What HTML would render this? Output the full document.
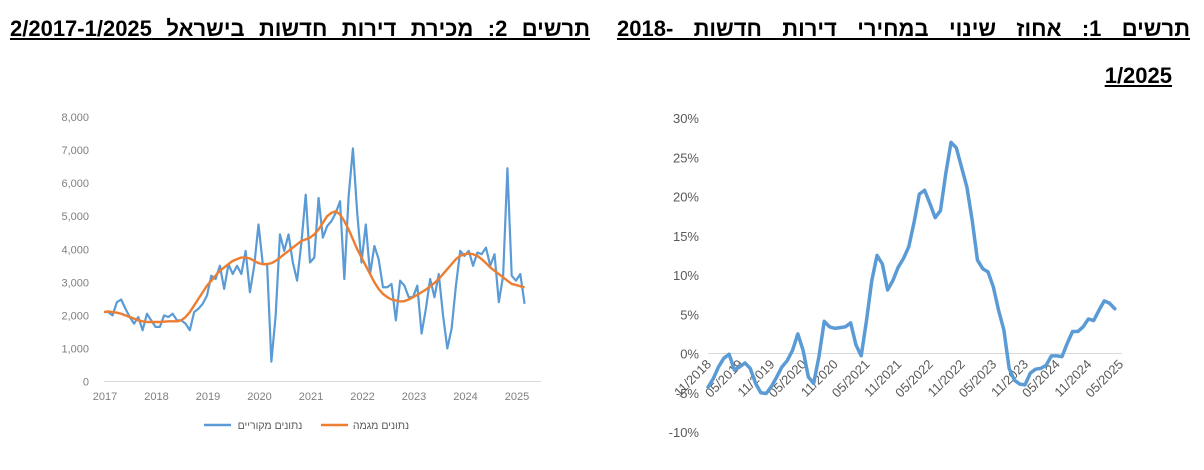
<!DOCTYPE html>
<html><head><meta charset="utf-8">
<style>
body{margin:0;background:#fff;width:1204px;height:470px;overflow:hidden;position:relative;font-family:"Liberation Sans","DejaVu Sans",sans-serif;}
.title{position:absolute;direction:rtl;font-weight:bold;font-size:22px;text-decoration:underline;white-space:nowrap;color:#000;line-height:26px;}
svg{position:absolute;left:0;top:0;}
</style></head><body>
<div class="title" id="t1" style="right:14px;top:16px;">תרשים 1: אחוז שינוי במחירי דירות חדשות -2018</div>
<div class="title" id="t1b" style="right:32px;top:63px;">1/2025</div>
<div class="title" id="t2" style="left:10px;top:16px;">תרשים 2: מכירת דירות חדשות בישראל 2/2017-1/2025</div>
<svg id="svg" width="1204" height="470"></svg>
<script>
// ---- Chart 2 (left) data ----
const salesYears = ["2017","2018","2019","2020","2021","2022","2023","2024","2025"];
const salesTicks = [0,1000,2000,3000,4000,5000,6000,7000,8000];
const salesRaw = [2100,2100,2000,2400,2480,2200,1950,1750,1950,1550,2050,1850,
1650,1650,2000,1950,2050,1850,1850,1750,1550,2100,2200,2350,
2600,3200,3100,3500,2800,3550,3250,3500,3250,3950,2700,3500,
4750,3550,3550,600,2000,4450,3950,4450,3600,3050,4200,5650,
3600,3750,5550,4350,4700,4850,5100,5450,3100,5600,7050,5100,
3600,4750,3250,4100,3700,2850,2850,2950,1850,3050,2900,2550,
2550,2900,1450,2200,3100,2550,3250,2000,1000,1600,2900,3950,
3800,3950,3500,3900,3850,4050,3500,3850,2400,3200,6450,3200,
3050,3250,2350];
const salesSmooth = [2100,2120,2100,2080,2050,2000,1950,1900,1850,1820,1800,1800,
1800,1800,1810,1820,1820,1820,1850,1950,2100,2300,2500,2700,
2900,3050,3200,3350,3450,3550,3650,3700,3750,3750,3720,3650,
3580,3550,3550,3580,3650,3750,3850,3950,4050,4150,4250,4300,
4350,4450,4600,4800,5000,5100,5150,5050,4850,4600,4300,4000,
3750,3500,3250,3000,2800,2650,2550,2480,2450,2420,2430,2480,
2550,2620,2700,2780,2880,2980,3100,3250,3400,3550,3700,3800,
3850,3870,3850,3800,3700,3580,3450,3350,3250,3150,3050,2950,
2920,2880,2850];
// ---- Chart 1 (right) data ----
const priceTickLabels = ["11/2018","05/2019","11/2019","05/2020","11/2020","05/2021","11/2021","05/2022","11/2022","05/2023","11/2023","05/2024","11/2024","05/2025"];
const pctTicks = [-10,-5,0,5,10,15,20,25,30];
const priceChange = [-4.3,-3.2,-1.7,-0.6,-0.1,-2.1,-1.7,-1.2,-1.9,-3.8,-5.0,-5.1,
-4.2,-3.0,-1.7,-0.9,0.4,2.5,0.4,-3.0,-3.8,-0.4,4.1,3.4,
3.2,3.3,3.4,3.9,1.1,-0.3,4.2,9.3,12.5,11.4,8.1,9.3,
11.0,12.1,13.6,16.7,20.3,20.8,19.1,17.3,18.2,22.9,26.9,26.2,
23.7,21.2,17.0,11.9,10.8,10.4,8.5,5.5,3.0,-1.9,-3.4,-3.9,
-4.0,-2.5,-2.0,-1.9,-1.5,-0.3,-0.3,-0.4,1.3,2.8,2.8,3.4,
4.4,4.2,5.5,6.7,6.4,5.7];

const NS="http://www.w3.org/2000/svg";
const svg=document.getElementById('svg');
function mk(tag,attrs,parent){const e=document.createElementNS(NS,tag);for(const k in attrs)e.setAttribute(k,attrs[k]);(parent||svg).appendChild(e);return e;}

// Left chart axes
const lx=m=>104+m*(51.5/12);
const ly=v=>381.5-v*(264.5/8000);
const g2=mk('g',{});


const ax2=mk('line',{x1:104,x2:541,y1:ly(0),y2:ly(0),stroke:'#d9d9d9','stroke-width':1},g2);


salesTicks.forEach(v=>{const t=mk('text',{x:89,y:ly(v)+4,'text-anchor':'end','font-size':11,fill:'#7f7f7f'},g2);t.textContent=v.toLocaleString('en-US');

});
salesYears.forEach((y,i)=>{const t=mk('text',{x:lx(i*12)+1,y:400,'text-anchor':'middle','font-size':11,fill:'#7f7f7f'},g2);t.textContent=y;

});
const p1=mk('polyline',{points:salesRaw.map((v,i)=>lx(i)+','+ly(v)).join(' '),fill:'none',stroke:'#5b9bd5','stroke-width':2.2,'stroke-linejoin':'round'},g2);


const p2=mk('polyline',{points:salesSmooth.map((v,i)=>lx(i)+','+ly(v)).join(' '),fill:'none',stroke:'#ed7d31','stroke-width':2.4,'stroke-linejoin':'round'},g2);


// legend
const lg=mk('g',{},g2);


mk('line',{x1:204,x2:231,y1:425,y2:425,stroke:'#5b9bd5','stroke-width':2.5},lg);
const lt1=mk('text',{x:270,y:429,'text-anchor':'middle','font-size':10.5,fill:'#595959'},lg);lt1.textContent='נתונים מקוריים';


mk('line',{x1:321,x2:348,y1:425,y2:425,stroke:'#ed7d31','stroke-width':2.5},lg);
const lt2=mk('text',{x:381,y:429,'text-anchor':'middle','font-size':10.5,fill:'#595959'},lg);lt2.textContent='נתונים מגמה';



// Right chart
const rx=m=>708+m*(15.85/3);
const ry=v=>353.5-v*(39.25/5);
const g1=mk('g',{});


const z=mk('line',{x1:708,x2:1122,y1:ry(0),y2:ry(0),stroke:'#d9d9d9','stroke-width':1},g1);


pctTicks.forEach(v=>{const t=mk('text',{x:699,y:ry(v)+5,'text-anchor':'end','font-size':13,fill:'#595959'},g1);t.textContent=v+'%';

});
priceTickLabels.forEach((l,i)=>{const x=rx(i*6)+4,y=365;const t=mk('text',{x:x,y:y,'text-anchor':'end','font-size':13,fill:'#595959',transform:`rotate(-45 ${x} ${y})`},g1);t.textContent=l;

});
const p3=mk('polyline',{points:priceChange.map((v,i)=>rx(i)+','+ry(v)).join(' '),fill:'none',stroke:'#5b9bd5','stroke-width':3.5,'stroke-linejoin':'round','stroke-linecap':'round'},g1);



// fit title widths
function fit(id,w){const el=document.getElementById(id);const cur=el.getBoundingClientRect().width;const words=el.textContent.split(' ').length-1;if(words>0)el.style.wordSpacing=((w-cur)/words)+'px';}
fit('t1',573);fit('t2',580);
</script>
</body></html>
